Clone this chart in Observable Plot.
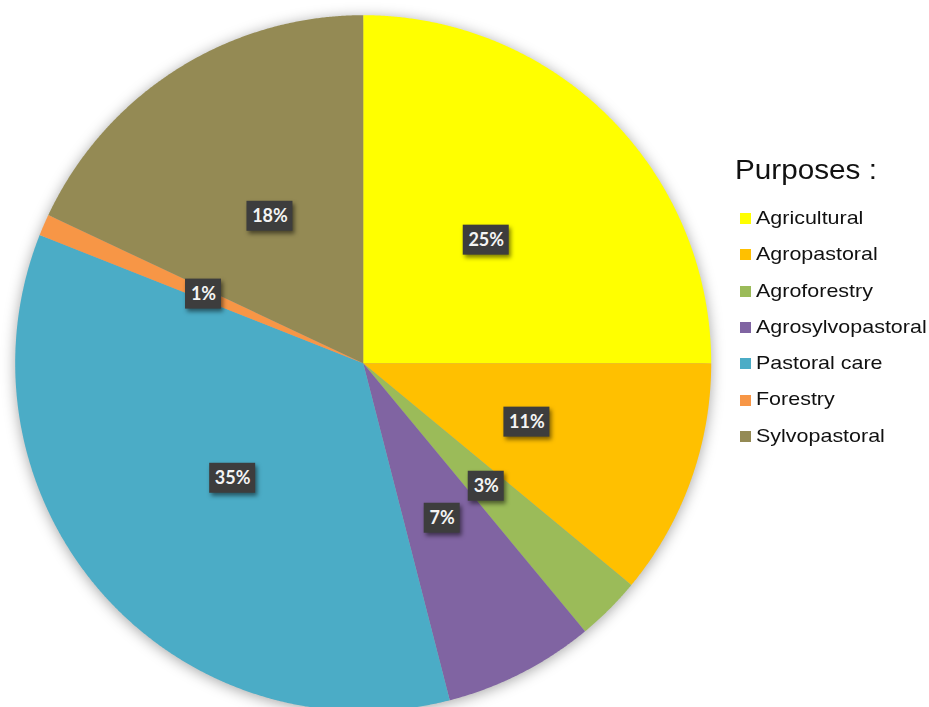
<!DOCTYPE html>
<html>
<head>
<meta charset="utf-8">
<script src="https://cdn.jsdelivr.net/npm/d3@7"></script>
<script src="https://cdn.jsdelivr.net/npm/@observablehq/plot@0.6"></script>
<style>
html, body { margin: 0; padding: 0; background: #fff; }
#wrap { position: relative; width: 929px; height: 707px; overflow: hidden; }
#chart svg [aria-label="line"] { filter: drop-shadow(0px 2px 7px rgba(0,0,0,0.35)); }
#chart svg [aria-label="rect"] { filter: drop-shadow(2px 3px 2px rgba(0,0,0,0.5)); }
.lg { position: absolute; font-family: "Liberation Sans", Arial, sans-serif; color: #111; white-space: pre; transform-origin: left center; }
.sw { position: absolute; width: 11px; height: 11px; }
</style>
</head>
<body>
<div id="wrap"><div id="chart"></div><div id="legend"></div></div>
<script>
// ---- data ----
const categories = ["Agricultural", "Agropastoral", "Agroforestry", "Agrosylvopastoral", "Pastoral care", "Forestry", "Sylvopastoral"];
const percents = [25, 11, 3, 7, 35, 1, 18];
const colors = ["#FFFF00", "#FFC000", "#9BBB59", "#8064A2", "#4BACC6", "#F79646", "#948A54"];
const legendTitle = "Purposes :";

// ---- geometry derived from the data ----
const total = d3.sum(percents);
let acc = 0;
const slices = categories.map((c, i) => {
  const a0 = acc / total * 2 * Math.PI;
  acc += percents[i];
  const a1 = acc / total * 2 * Math.PI;
  return {key: c, value: percents[i], a0, a1, mid: (a0 + a1) / 2};
});
const wedgePoints = slices.flatMap(s => {
  const pts = [{key: s.key, x: 0, y: 0}];
  const n = Math.max(2, Math.ceil((s.a1 - s.a0) / (Math.PI / 720)));
  for (let k = 0; k <= n; k++) {
    const a = s.a0 + (s.a1 - s.a0) * k / n;
    pts.push({key: s.key, x: Math.sin(a), y: Math.cos(a)});
  }
  pts.push({key: s.key, x: 0, y: 0});
  return pts;
});
const labels = slices.map(s => ({
  key: s.key,
  text: s.value + "%",
  x: 0.5 * Math.sin(s.mid),
  y: 0.5 * Math.cos(s.mid),
  wide: String(s.value).length > 1
}));

// ---- layout ----
const cx = 362.7, cy = 362.7, R = 348;

const chart = Plot.plot({
  width: 929,
  height: 707,
  margin: 0,
  x: {domain: [-1, 1], range: [cx - R, cx + R], axis: null},
  y: {domain: [-1, 1], range: [cy + R, cy - R], axis: null},
  color: {domain: categories, range: colors, legend: false},
  marks: [
    Plot.line(wedgePoints, {x: "x", y: "y", z: "key", fill: "key", stroke: "none", curve: "linear"}),
    Plot.rect(labels.filter(d => d.wide), {x1: "x", x2: "x", y1: "y", y2: "y", fill: "#3d3d3d",
      insetLeft: -23, insetRight: -23, insetTop: -15, insetBottom: -15}),
    Plot.rect(labels.filter(d => !d.wide), {x1: "x", x2: "x", y1: "y", y2: "y", fill: "#3d3d3d",
      insetLeft: -18, insetRight: -18, insetTop: -15, insetBottom: -15}),
    Plot.text(labels, {x: "x", y: "y", text: "text", fill: "#f4f4f4", fontSize: 18, fontWeight: "bold",
      fontFamily: "Lato, 'Open Sans', sans-serif"})
  ]
});
document.getElementById("chart").appendChild(chart);

// ---- legend (HTML) ----
const lg = document.getElementById("legend");
const title = document.createElement("div");
title.className = "lg";
title.style.cssText = "left:735px;top:156.6px;font-size:27px;line-height:27px;transform:scaleX(1.1);";
title.textContent = legendTitle;
lg.appendChild(title);
categories.forEach((c, i) => {
  const base = 224 + 36.3 * i;
  const sw = document.createElement("div");
  sw.className = "sw";
  sw.style.left = "740px";
  sw.style.top = (base - 11) + "px";
  sw.style.background = colors[i];
  lg.appendChild(sw);
  const t = document.createElement("div");
  t.className = "lg";
  t.style.cssText = `left:756px;top:${base - 16.1}px;font-size:19px;line-height:19px;transform:scaleX(1.13);`;
  t.textContent = c;
  lg.appendChild(t);
});
</script>
</body>
</html>
